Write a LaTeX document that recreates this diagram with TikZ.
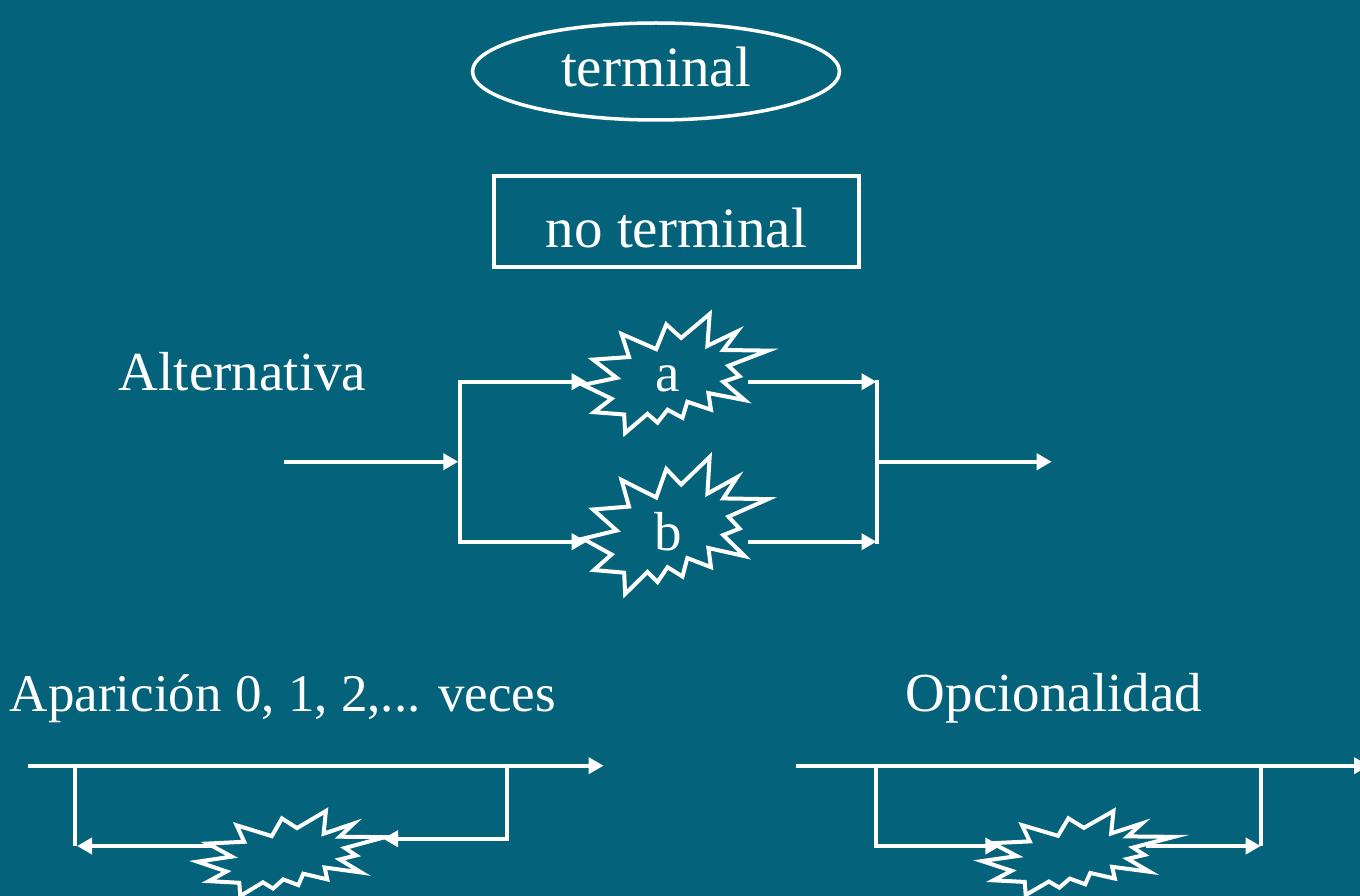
\documentclass[tikz,border=0pt]{standalone}
\usepackage{fontspec}
\setmainfont{Liberation Serif}
\usetikzlibrary{arrows.meta,shapes.geometric}
\definecolor{bg}{RGB}{4,98,122}
\newcommand\boomstar[4]{\begin{scope}[shift={(#1,#2)},x=#3pt,y=-#4pt]\pic{boom};\end{scope}}
\begin{document}
\begin{tikzpicture}[x=1pt,y=-1pt,
  >={Triangle[length=15pt,width=16pt]},
  wire/.style={white,line width=4pt},
  starline/.style={white,line width=4pt,fill=bg,line join=miter},
  lbl/.style={text=white,inner sep=0pt,font=\fontsize{55}{66}\selectfont},
  boom/.pic={\draw[starline] (0.5306,0.2010) -- (0.6847,0) -- (0.6725,0.2675) -- (0.8337,0.1469) -- (0.7583,0.3024) -- (1,0.3076) -- (0.7863,0.4353) -- (0.8458,0.5227) -- (0.7583,0.5699) -- (0.8739,0.7237) -- (0.6778,0.6644) -- (0.6918,0.8042) -- (0.5639,0.7377) -- (0.5376,0.8723) -- (0.4570,0.8042) -- (0.4028,0.9126) -- (0.3485,0.8391) -- (0.2276,1) -- (0.2225,0.8444) -- (0.0595,0.8252) -- (0.1542,0.7116) -- (0,0.5962) -- (0.1822,0.5367) -- (0.0543,0.3829) -- (0.2487,0.3619) -- (0.2084,0.1678) -- (0.3958,0.2955) -- (0.4501,0.0874) -- cycle;}
]
\fill[bg] (0,0) rectangle (1360,896);
\useasboundingbox (0,0) rectangle (1360,896);

% shapes
\node[draw=white,line width=3.5pt,ellipse,minimum width=367pt,minimum height=97pt,
      text=white,font=\fontsize{57}{68}\selectfont,text height=30.4pt,text depth=0pt] (term) at (656,71.5) {terminal};
\node[draw=white,line width=4pt,rectangle,minimum width=365.3pt,minimum height=91.3pt,
      text=white,font=\fontsize{57}{68}\selectfont,text height=52pt,text depth=0pt] (nonterm) at (676.4,221.7) {no terminal};

\node[lbl,anchor=base] (alt) at (242.5,390) {Alternativa};
\node[lbl,anchor=base,font=\fontsize{53}{64}\selectfont] (apar) at (283,711.7) {Aparición 0, 1, 2,... veces};
\node[lbl,anchor=base] (opc) at (1054,711.7) {Opcionalidad};

% stars
\boomstar{583}{314}{185}{119}
\boomstar{583}{457}{185}{137}
\boomstar{197.6}{811}{187.4}{85}
\boomstar{982}{811}{192}{84}
\node[lbl,anchor=base] (sa) at (668,391) {a};
\node[lbl,anchor=base] (sb) at (668,550) {b};

% alternativa connectors
\coordinate (ain) at (284,461.7);
\coordinate (jl) at (458.3,461.7);
\coordinate (jlt) at (460,381.7);
\coordinate (jlb) at (460,541.7);
\coordinate (sain) at (586.7,381.7);
\coordinate (sbin) at (586.7,541.7);
\coordinate (saout) at (748,381.7);
\coordinate (sbout) at (748,541.7);
\coordinate (jrt) at (876.5,381.7);
\coordinate (jrb) at (876.5,541.7);
\coordinate (jrm) at (876.5,461.7);
\coordinate (aout) at (1051.7,461.7);
\draw[wire,->] (ain) -- (jl);
\draw[wire,<->,line join=miter] (sain) -- (jlt) -- (jlb) -- (sbin);
\draw[wire,->] (saout) -- (jrt);
\draw[wire,->] (sbout) -- (jrb);
\draw[wire,line cap=rect] (jrt) -- (jrb);
\draw[wire,->] (jrm) -- (aout);

% aparicion connectors
\coordinate (ls) at (27.7,765.7);
\coordinate (le) at (603.6,765.7);
\coordinate (lvt) at (75,765.7);
\coordinate (lvb) at (75,846);
\coordinate (lvtip) at (77,846);
\coordinate (lstarout) at (212.5,846);
\coordinate (rvt) at (506.7,765.7);
\coordinate (rvb) at (506.7,838.7);
\coordinate (lstarin) at (383,838.7);
\draw[wire,->] (ls) -- (le);
\draw[wire] (lvt) -- (lvb);
\draw[wire,->] (lstarout) -- (lvtip);
\draw[wire,->,line join=miter] (rvt) -- (rvb) -- (lstarin);

% opcionalidad connectors
\coordinate (ms) at (795.6,765.7);
\coordinate (me) at (1369,765.7);
\coordinate (mvt) at (876.3,765.7);
\coordinate (mvb) at (876.3,846);
\coordinate (rstarin) at (1000.4,846);
\coordinate (rstarout) at (1146,846);
\coordinate (nvt) at (1260.7,765.7);
\coordinate (nvb) at (1260.7,846);
\draw[wire,->] (ms) -- (me);
\draw[wire,->,line join=miter] (mvt) -- (mvb) -- (rstarin);
\draw[wire,->] (rstarout) -- (nvb);
\draw[wire] (nvt) -- (nvb);
\end{tikzpicture}
\end{document}
